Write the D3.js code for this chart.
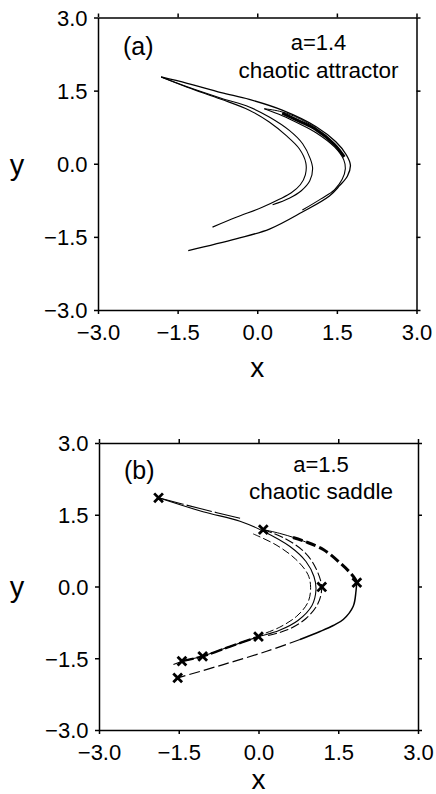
<!DOCTYPE html>
<html><head><meta charset="utf-8">
<script src="https://cdn.jsdelivr.net/npm/d3@7"></script>
<style>
body{margin:0;background:#fff}
svg{display:block}
text{font-family:"Liberation Sans",Arial,Helvetica,sans-serif;fill:#000}
</style>
</head><body><svg id="c" width="436" height="794"></svg>
<script>
// ---------- data ----------
const xTicks = [-3, -1.5, 0, 1.5, 3];
const yTicks = [-3, -1.5, 0, 1.5, 3];
const tickLabels = ["\u22123.0", "\u22121.5", "0.0", "1.5", "3.0"];

// panel (a): a=1.4 chaotic attractor, strands
const aOuterEdge = [[-1.81,1.78],[-1.32,1.65],[-0.68,1.46],[-0.15,1.32],[0.47,1.10],[1.11,0.76],[1.48,0.45],[1.68,0.18],[1.755,-0.03],[1.70,-0.25],[1.55,-0.45],[1.36,-0.66],[0.85,-0.99],[0.23,-1.34],[-0.40,-1.54],[-1.30,-1.78]];
const aOuterInner = [[0.132,1.129],[0.472,0.986],[0.792,0.821],[1.108,0.637],[1.46,0.34],[1.63,0.08],[1.66,-0.10],[1.60,-0.32],[1.453,-0.534],[1.20,-0.72],[0.85,-0.95]];
const aHook = [[0.132,1.129],[0.415,1.078],[0.698,0.975],[1.108,0.739]];
const aBand = [[0.47,1.04],[0.79,0.875],[1.11,0.70],[1.45,0.40],[1.64,0.14]];
const aInner1 = [[-1.81,1.78],[-1.32,1.58],[-0.68,1.345],[-0.15,1.164],[0.226,0.959],[0.604,0.684],[0.855,0.411],[1.00,0.10],[1.043,-0.10],[0.99,-0.35],[0.830,-0.554],[0.604,-0.708],[0.289,-0.842]];
const aInner2 = [[-1.81,1.78],[-1.32,1.571],[-0.68,1.324],[-0.15,1.099],[0.226,0.856],[0.542,0.581],[0.792,0.308],[0.915,0.02],[0.906,-0.226],[0.811,-0.431],[0.642,-0.595],[0.415,-0.729],[0.094,-0.893],[-0.396,-1.099],[-0.843,-1.300]];

// panel (b): a=1.5 chaotic saddle
const bCrosses = [[-1.88,1.855],[0.09,1.19],[1.19,-0.01],[1.85,0.08],[0.0,-1.05],[-1.05,-1.46],[-1.44,-1.56],[-1.52,-1.91]];
const bUpper = [[-1.88,1.855],[-1.10,1.63],[-0.32,1.42]];
const bInSolid = [[-1.88,1.855],[-1.043,1.563],[-0.348,1.366],[0.09,1.157],[0.592,0.837],[0.893,0.523],[1.043,0.209],[1.081,-0.063],[1.006,-0.397],[0.742,-0.711],[0.385,-0.921],[-0.009,-1.056],[-0.536,-1.255],[-1.043,-1.454],[-1.438,-1.569],[-1.60,-1.63]];
const bInOuter = [[0.09,1.19],[0.498,1.004],[0.874,0.711],[1.081,0.377],[1.188,-0.015],[1.118,-0.356],[0.893,-0.669],[0.555,-0.900],[0.179,-1.025]];
const bInInner = [[-0.10,1.10],[0.33,0.87],[0.70,0.57],[0.93,0.25],[0.98,-0.02],[0.93,-0.33],[0.72,-0.62],[0.40,-0.85],[0.07,-1.00]];
const bOutThin = [[0.09,1.19],[0.40,1.11],[0.70,1.01],[1.00,0.88]];
const bOutHeavy = [[0.648,1.025],[0.874,0.941],[1.218,0.774],[1.532,0.496],[1.720,0.293],[1.823,0.146],[1.846,0.08]];
const bOutLowerSolid = [[1.846,0.08],[1.833,-0.105],[1.782,-0.412],[1.594,-0.690],[1.406,-0.816],[1.156,-0.941],[0.780,-1.109]];
const bOutLowerDash = [[0.780,-1.109],[0.154,-1.354],[-0.662,-1.632],[-1.519,-1.91]];
const bLowHeavy = [[-1.44,-1.56],[-1.05,-1.46],[-0.536,-1.255],[0.0,-1.05]];

// ---------- layout & style ----------
const svg = d3.select("#c");
const panels = [
  {box:{l:98, r:416.5, t:17.5, b:310}, tag:"(a)", tagPos:[123,55], lab1:"a=1.4", lab2:"chaotic attractor", labX:318.5, lab1Y:50, lab2Y:77.5, xTitleY:377, yTitleY:175,
   series:[
     {d:aOuterEdge, w:1.3}, {d:aOuterInner, w:1.1}, {d:aHook, w:1.0}, {d:aBand, w:3},
     {d:aInner1, w:1.1}, {d:aInner2, w:1.1}
   ], crosses:null},
  {box:{l:99, r:418, t:443, b:730}, tag:"(b)", tagPos:[124,479], lab1:"a=1.5", lab2:"chaotic saddle", labX:321, lab1Y:471.5, lab2Y:499, xTitleY:789, yTitleY:597,
   series:[
     {d:bUpper, w:1.1, dash:"26,3"}, {d:bInSolid, w:1.1}, {d:bInOuter, w:1.1, dash:"9,3"},
     {d:bInInner, w:1.0, dash:"8,3"}, {d:bOutThin, w:1.0}, {d:bOutHeavy, w:3, dash:"10,4"},
     {d:bOutLowerSolid, w:1.5}, {d:bOutLowerDash, w:1.2, dash:"11,4"}, {d:bLowHeavy, w:2.4, dash:"12,3"}
   ], crosses:bCrosses}
];

panels.forEach(p => {
  const B = p.box;
  const x = d3.scaleLinear().domain([-3,3]).range([B.l,B.r]);
  const y = d3.scaleLinear().domain([-3,3]).range([B.b,B.t]);
  const g = svg.append("g");
  const fmt = (d,i) => tickLabels[i];
  const styleAxis = s => {
    s.selectAll("path,line").attr("stroke","#000").attr("stroke-width",1.5);
    s.attr("font-family",null).attr("font-size",null);
  };
  const gb = g.append("g").attr("transform",`translate(0,${B.b})`)
    .call(d3.axisBottom(x).tickValues(xTicks).tickSize(4).tickSizeOuter(0).tickFormat(fmt)).call(styleAxis);
  gb.selectAll("text").attr("y",30).attr("dy",0).style("font-size","22px");
  const gl = g.append("g").attr("transform",`translate(${B.l},0)`)
    .call(d3.axisLeft(y).tickValues(yTicks).tickSize(4).tickSizeOuter(0).tickFormat(fmt)).call(styleAxis);
  gl.selectAll("text").attr("x",-10.5).attr("dy","0.36em").style("font-size","22px");
  g.append("g").attr("transform",`translate(0,${B.t})`)
    .call(d3.axisTop(x).tickValues(xTicks).tickSize(4).tickSizeOuter(0).tickFormat("")).call(styleAxis);
  g.append("g").attr("transform",`translate(${B.r},0)`)
    .call(d3.axisRight(y).tickValues(yTicks).tickSize(4).tickSizeOuter(0).tickFormat("")).call(styleAxis);

  const line = d3.line().x(d=>x(d[0])).y(d=>y(d[1])).curve(d3.curveCatmullRom.alpha(0.5));
  p.series.forEach(s => {
    g.append("path").attr("d", line(s.d)).attr("fill","none").attr("stroke","#000")
      .attr("stroke-width", s.w).attr("stroke-dasharray", s.dash || null)
      .attr("stroke-linecap","butt").attr("stroke-linejoin","round");
  });
  if (p.crosses) {
    const sym = d3.symbol().type(d3.symbolX).size(52);
    g.selectAll("path.cross").data(p.crosses).join("path").attr("class","cross")
      .attr("d", sym).attr("transform", d=>`translate(${x(d[0])},${y(d[1])})`)
      .attr("fill","none").attr("stroke","#000").attr("stroke-width",2.8);
  }
  g.append("text").attr("x",p.tagPos[0]).attr("y",p.tagPos[1]).style("font-size","25px").text(p.tag);
  g.append("text").attr("x",p.labX).attr("y",p.lab1Y).attr("text-anchor","middle").style("font-size","22px").text(p.lab1);
  g.append("text").attr("x",p.labX).attr("y",p.lab2Y).attr("text-anchor","middle").style("font-size","22.5px").text(p.lab2);
  g.append("text").attr("x",(B.l+B.r)/2).attr("y",p.xTitleY).attr("text-anchor","middle").style("font-size","28px").text("x");
  g.append("text").attr("x",17).attr("y",p.yTitleY).attr("text-anchor","middle").style("font-size","29px").text("y");
});
</script></body></html>
